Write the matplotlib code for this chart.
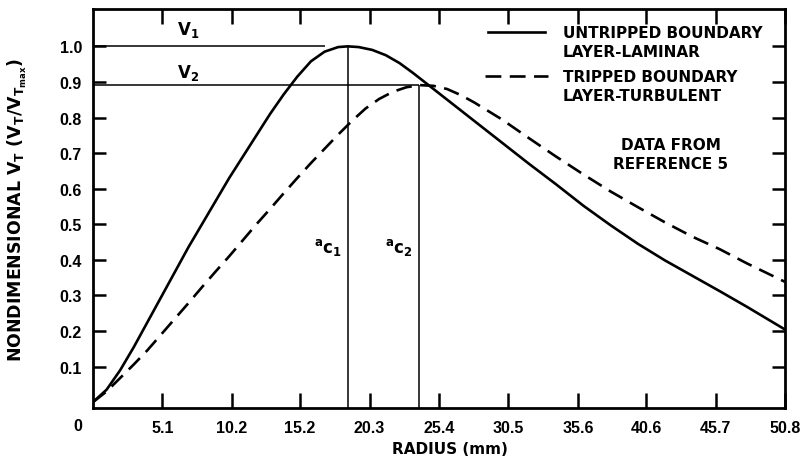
import matplotlib
matplotlib.use("Agg")
import matplotlib.pyplot as plt

# radius (mm) and nondimensional tangential velocity
laminar_r = [0, 1, 2, 3, 4, 5, 6, 7, 8, 9, 10, 11, 12, 13, 14, 15, 16, 17, 18,
             18.7, 19.5, 20.5, 21.5, 22.5, 23.5, 24.5, 26, 28, 30, 32, 34, 36,
             38, 40, 42, 44, 46, 48, 50.8]
laminar_v = [0, 0.035, 0.09, 0.155, 0.225, 0.295, 0.365, 0.435, 0.50, 0.565, 0.63,
             0.69, 0.75, 0.81, 0.865, 0.915, 0.958, 0.985, 0.998,
             1.0, 0.998, 0.99, 0.975, 0.953, 0.925, 0.895, 0.85, 0.79, 0.73, 0.67,
             0.612, 0.552, 0.497, 0.445, 0.398, 0.355, 0.312, 0.268, 0.204]

turbulent_r = [0, 1, 2, 3, 4, 5, 6, 7, 8, 9, 10, 11, 12, 13, 14, 15, 16, 17, 18,
               19, 20, 21, 22, 23, 24, 25, 26, 27, 28, 30, 32, 34, 36, 38, 40, 42,
               44, 46, 48, 50.8]
turbulent_v = [0, 0.03, 0.068, 0.106, 0.146, 0.19, 0.234, 0.278, 0.323, 0.367, 0.41,
               0.455, 0.50, 0.543, 0.587, 0.63, 0.672, 0.712, 0.752, 0.79, 0.825,
               0.852, 0.872, 0.885, 0.891, 0.889, 0.88, 0.863, 0.842, 0.795, 0.742,
               0.69, 0.64, 0.592, 0.548, 0.505, 0.465, 0.43, 0.39, 0.338]

v1, v2 = 1.0, 0.89
ac1, ac2 = 18.7, 23.9
v1_line_end = 17.0

xticks = [5.1, 10.2, 15.2, 20.3, 25.4, 30.5, 35.6, 40.6, 45.7, 50.8]
yticks = [0.1, 0.2, 0.3, 0.4, 0.5, 0.6, 0.7, 0.8, 0.9, 1.0]

plt.rcParams['font.family'] = ['Liberation Sans', 'DejaVu Sans']
plt.rcParams['font.weight'] = 'bold'
plt.rcParams['mathtext.fontset'] = 'dejavusans'

fig = plt.figure(figsize=(8.07, 4.77), dpi=100)
ax = fig.add_axes([93 / 807, 68 / 477, 692 / 807, 399 / 477])

ax.plot(laminar_r, laminar_v, color='black', lw=1.9, solid_joinstyle='round')
ax.plot(turbulent_r, turbulent_v, color='black', lw=1.9, dashes=(6, 3.2))

ybot = -0.0166
ax.hlines(v1, 0, v1_line_end, color='black', lw=1.1)
ax.hlines(v2, 0, ac2, color='black', lw=1.1)
ax.vlines(ac1, ybot, v1, color='black', lw=1.1)
ax.vlines(ac2, ybot, v2, color='black', lw=1.1)

ax.set_xlim(0, 50.8)
ax.set_ylim(ybot, 1.105)

ax.set_xticks(xticks)
ax.set_xticklabels([f"{t:.1f}" for t in xticks])
ax.set_yticks(yticks)
ax.set_yticklabels([f"{t:.1f}" for t in yticks])
ax.tick_params(axis='x', direction='in', length=11, width=1.8, top=True,
               pad=9, labelsize=11.5)
ax.tick_params(axis='y', direction='in', length=9.5, width=1.8, right=True,
               pad=8, labelsize=11.5)
for s in ax.spines.values():
    s.set_linewidth(2)

ax.annotate('0', xy=(0, 0), xycoords='axes fraction', xytext=(-15, -18),
            textcoords='offset pixels', ha='center', va='center', fontsize=11.5)

tf = dict(family='DejaVu Sans', fontweight='bold', fontsize=11)
ax.set_xlabel('RADIUS (mm)', **tf)
ax.xaxis.set_label_coords(0.516, -0.082)
fig.text(17 / 807, 0.56,
         r'NONDIMENSIONAL $\mathbf{V_T\ (V_T/V_{T_{max}})}$',
         rotation=90, ha='center', va='center', family='DejaVu Sans',
         fontweight='bold', fontsize=12.5)

ax.text(6.2, 1.035, r'$\mathbf{V_1}$', ha='left', va='baseline', fontsize=12)
ax.text(6.2, 0.914, r'$\mathbf{V_2}$', ha='left', va='baseline', fontsize=12)
ax.text(ac1 - 0.45, 0.436, r'$\mathbf{{}^{a}c_{1}}$', ha='right', va='center', fontsize=12)
ax.text(ac2 - 0.45, 0.436, r'$\mathbf{{}^{a}c_{2}}$', ha='right', va='center', fontsize=12)

# legend drawn by hand so the sample sits on the first text line
ax.plot([0.571, 0.653], [0.942, 0.942], color='black', lw=1.9, transform=ax.transAxes)
ax.plot([0.566, 0.657], [0.832, 0.832], color='black', lw=1.9, dashes=(6, 3.2),
        transform=ax.transAxes)
ax.text(0.679, 0.917, 'UNTRIPPED BOUNDARY\nLAYER-LAMINAR', transform=ax.transAxes,
        ha='left', va='center', linespacing=1.3, **tf)
ax.text(0.679, 0.807, 'TRIPPED BOUNDARY\nLAYER-TURBULENT', transform=ax.transAxes,
        ha='left', va='center', linespacing=1.3, **tf)
ax.text(42.4, 0.698, 'DATA FROM\nREFERENCE 5', ha='center', va='center',
        linespacing=1.3, **tf)

fig.savefig('out.png', dpi=100)
